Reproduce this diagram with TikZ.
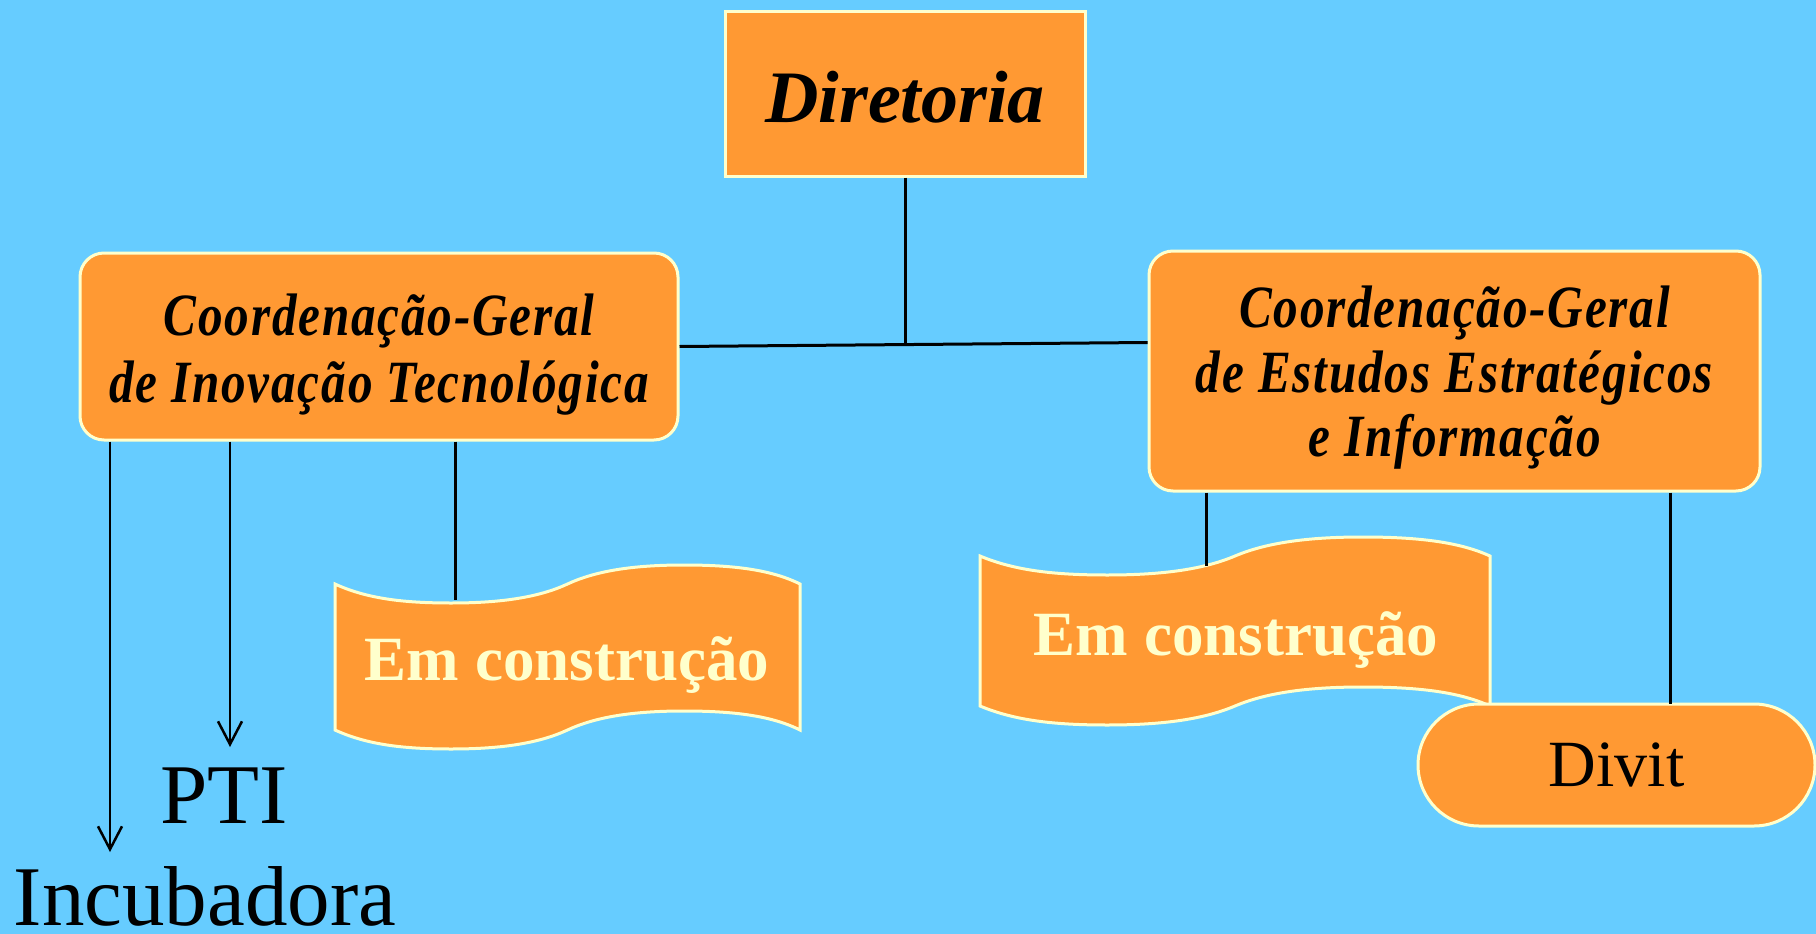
\documentclass[tikz,border=0pt]{standalone}
\usepackage{fontspec}
\setmainfont{Liberation Serif}
\newfontfamily\condfont[FakeStretch=0.82,LetterSpace=3]{Liberation Serif}
\usetikzlibrary{arrows.meta}
\definecolor{bgblue}{HTML}{66CCFF}
\definecolor{boxorange}{HTML}{FF9933}
\definecolor{paleyellow}{HTML}{FFFFCC}
\tikzset{
 box/.style={draw=paleyellow, line width=3pt, fill=boxorange, inner sep=0pt},
 conn/.style={draw=black, line width=3pt},
 arr/.style={draw=black, line width=2.5pt, -{Straight Barb[length=23pt,width=24pt,line width=2.5pt]}},
 bannerstyle/.style={draw=paleyellow, line width=3pt, fill=boxorange},
 bantext/.style={text=paleyellow, font=\fontsize{63}{70}\selectfont\bfseries, inner sep=0pt, anchor=base},
 cgtext/.style={align=center, inner sep=0pt},
 plaintext/.style={font=\fontsize{85}{90}\selectfont, inner sep=0pt, anchor=base}
}
% banner: #1 x0, #2 y0 (top-left corner), #3 width, #4 height
\newcommand{\wavebanner}[4]{%
 \begin{scope}[shift={(#1,#2)}]
 \filldraw[bannerstyle] (0,0) .. controls ({0.07*#3},15) and ({0.15*#3},19) .. ({0.25*#3},19)
   .. controls ({0.36*#3},19) and ({0.44*#3},13) .. ({0.5*#3},0)
   .. controls ({0.56*#3},-13) and ({0.64*#3},-19) .. ({0.75*#3},-19)
   .. controls ({0.86*#3},-19) and ({0.94*#3},-14) .. (#3,0)
   -- (#3,#4)
   .. controls ({0.94*#3},{#4-14}) and ({0.86*#3},{#4-19}) .. ({0.75*#3},{#4-19})
   .. controls ({0.64*#3},{#4-19}) and ({0.56*#3},{#4-13}) .. ({0.5*#3},#4)
   .. controls ({0.44*#3},{#4+13}) and ({0.36*#3},{#4+19}) .. ({0.25*#3},{#4+19})
   .. controls ({0.15*#3},{#4+19}) and ({0.07*#3},{#4+15}) .. (0,#4) -- cycle;
 \end{scope}}
\begin{document}
\begin{tikzpicture}[x=1pt,y=-1pt]
\fill[bgblue] (0,0) rectangle (1816,934);
\useasboundingbox (0,0) rectangle (1816,934);

% boxes
\node[box, minimum width=360pt, minimum height=164pt] (dir) at (905,94) {};
\node[font=\fontsize{74}{80}\selectfont\bfseries\itshape, inner sep=0pt] (dirtext) at ([yshift=-3pt]dir.center) {Diretoria};
\node[box, rounded corners=24pt, minimum width=598pt, minimum height=187pt] (cgL) at (379,346.5) {};
\node[cgtext, font=\condfont\fontsize{60}{67}\selectfont\bfseries\itshape] (cgLtext) at ([yshift=-8pt]cgL.center) {Coordenação-Geral\\de Inovação Tecnológica};
\node[box, rounded corners=24pt, minimum width=611pt, minimum height=240pt] (cgR) at (1454.5,371) {};
\node[cgtext, font=\condfont\fontsize{60}{64.5}\selectfont\bfseries\itshape] (cgRtext) at ([yshift=-7pt]cgR.center) {Coordenação-Geral\\de Estudos Estratégicos\\e Informação};

% banners
\wavebanner{335}{584}{465}{146}
\node[bantext] (emL) at (567,680) {Em construção};
\wavebanner{980}{556}{510}{150}
\node[bantext] (emR) at (1236,655) {Em construção};

\node[box, rounded corners=61pt, minimum width=397pt, minimum height=122pt, font=\fontsize{66}{70}\selectfont] (divit) at (1616.5,765) {Divit};

\node[plaintext] (pti) at (224,823) {PTI};
\node[plaintext] (inc) at (205,925) {Incubadora};

% connector end points
\coordinate (junc) at (905,344);
\coordinate (a1) at (110,852);
\coordinate (a2) at (230,747);
\coordinate (bL) at (455,600);
\coordinate (bR) at (1206,566);
\coordinate (dv) at (1670,704);

% connectors
\draw[conn] (dir.south) -- (junc);
\draw[conn] (cgL.east) -- ([yshift=4pt]cgL.east -| cgR.west);
\draw[arr] (cgL.south -| a1) -- (a1);
\draw[arr] (cgL.south -| a2) -- (a2);
\draw[conn] (cgL.south -| bL) -- (bL);
\draw[conn] (cgR.south -| bR) -- (bR);
\draw[conn] (cgR.south -| dv) -- (dv);
\end{tikzpicture}
\end{document}
